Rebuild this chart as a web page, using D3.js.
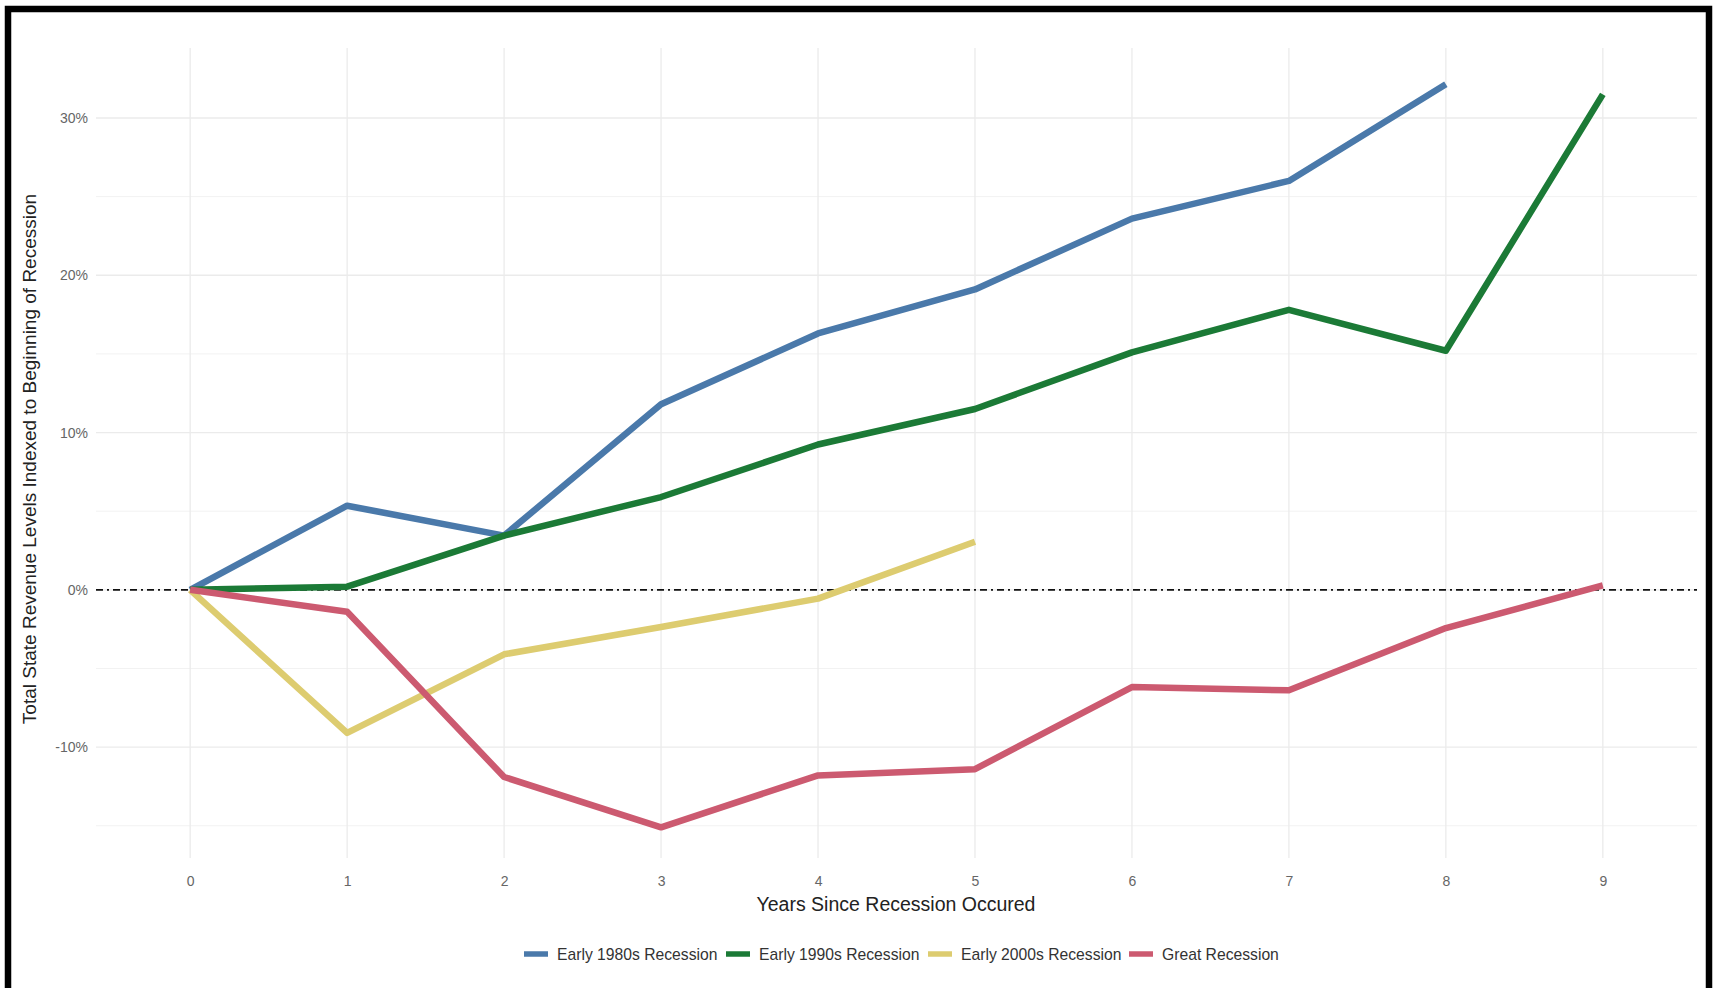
<!DOCTYPE html>
<html>
<head>
<meta charset="utf-8">
<script src="https://cdn.jsdelivr.net/npm/d3@7"></script>
<style>
  html, body { margin: 0; padding: 0; background: #fff; }
  svg { display: block; font-family: "Liberation Sans", Arial, sans-serif; }
</style>
</head>
<body>
<svg id="chart" width="1713" height="988"></svg>
<script>
const years = [0, 1, 2, 3, 4, 5, 6, 7, 8, 9];
const seriesNames = ["Early 1980s Recession", "Early 1990s Recession", "Early 2000s Recession", "Great Recession"];
const early1980s = [0, 5.35, 3.45, 11.8, 16.3, 19.1, 23.6, 26.0, 32.15];
const early1990s = [0, 0.2, 3.45, 5.9, 9.24, 11.5, 15.1, 17.8, 15.2, 31.5];
const early2000s = [0, -9.1, -4.1, -2.36, -0.56, 3.06];
const greatRecession = [0, -1.39, -11.9, -15.1, -11.8, -11.4, -6.18, -6.39, -2.43, 0.28];
const seriesColors = ["#4a79aa", "#1b7a36", "#ddcc70", "#cc5a70"];
const yTickValues = [-10, 0, 10, 20, 30];
const yMinorValues = [-15, -5, 5, 15, 25];
const xTickLabels = ["0", "1", "2", "3", "4", "5", "6", "7", "8", "9"];

const allSeries = [early1980s, early1990s, early2000s, greatRecession];

const svg = d3.select("#chart");
const panel = { left: 96, right: 1697, top: 48, bottom: 858 };

const x = d3.scaleLinear().domain([-0.6, 9.6]).range([panel.left, panel.right]);
const y = d3.scaleLinear().domain([-17.05, 34.45]).range([panel.bottom, panel.top]);

// grid
const grid = svg.append("g");
grid.selectAll("line.minor").data(yMinorValues).enter().append("line")
  .attr("x1", panel.left).attr("x2", panel.right)
  .attr("y1", d => y(d)).attr("y2", d => y(d))
  .attr("stroke", "#f2f2f2").attr("stroke-width", 1);
grid.selectAll("line.major").data(yTickValues).enter().append("line")
  .attr("x1", panel.left).attr("x2", panel.right)
  .attr("y1", d => y(d)).attr("y2", d => y(d))
  .attr("stroke", "#ebebeb").attr("stroke-width", 1.3);
grid.selectAll("line.vx").data(years).enter().append("line")
  .attr("x1", d => x(d)).attr("x2", d => x(d))
  .attr("y1", panel.top).attr("y2", panel.bottom)
  .attr("stroke", "#ebebeb").attr("stroke-width", 1.3);

// zero reference line (dash-dot)
svg.append("line")
  .attr("x1", panel.left).attr("x2", panel.right)
  .attr("y1", y(0)).attr("y2", y(0))
  .attr("stroke", "#111").attr("stroke-width", 1.6)
  .attr("stroke-dasharray", "7,4,2,4");

// axes (text only)
const yAxis = d3.axisLeft(y).tickValues(yTickValues).tickSize(0).tickPadding(0)
  .tickFormat(d => d + "%");
const yg = svg.append("g").attr("transform", `translate(88,0)`).call(yAxis);
yg.select(".domain").remove();
yg.selectAll("text").attr("fill", "#666").attr("font-size", 14)
  .attr("font-family", "Liberation Sans, Arial, sans-serif");

const xAxis = d3.axisBottom(x).tickValues(years).tickSize(0).tickPadding(0)
  .tickFormat((d, i) => xTickLabels[i]);
const xg = svg.append("g").attr("transform", `translate(0,876)`).call(xAxis);
xg.select(".domain").remove();
xg.selectAll("text").attr("fill", "#666").attr("font-size", 14)
  .attr("font-family", "Liberation Sans, Arial, sans-serif");

// lines
const line = d3.line().x((d, i) => x(years[i])).y(d => y(d));
svg.append("g").selectAll("path").data(allSeries).enter().append("path")
  .attr("d", d => line(d))
  .attr("fill", "none")
  .attr("stroke", (d, i) => seriesColors[i])
  .attr("stroke-width", 6.5)
  .attr("stroke-linejoin", "round")
  .attr("stroke-linecap", "butt");

// axis titles
svg.append("text")
  .attr("x", 896).attr("y", 911)
  .attr("text-anchor", "middle")
  .attr("font-size", 19.5).attr("fill", "#222")
  .text("Years Since Recession Occured");

svg.append("text")
  .attr("transform", `translate(36,459) rotate(-90)`)
  .attr("text-anchor", "middle")
  .attr("font-size", 19).attr("fill", "#222")
  .text("Total State Revenue Levels Indexed to Beginning of Recession");

// legend
const legendX = [524, 726, 928, 1129];
const legend = svg.append("g");
seriesNames.forEach((name, i) => {
  const g = legend.append("g").attr("transform", `translate(${legendX[i]},954)`);
  g.append("line").attr("x1", 0).attr("x2", 24).attr("y1", 0).attr("y2", 0)
    .attr("stroke", seriesColors[i]).attr("stroke-width", 5.5);
  g.append("text").attr("x", 33).attr("y", 5.5)
    .attr("font-size", 15.7).attr("fill", "#333").text(name);
});

// frame
svg.append("path")
  .attr("d", "M8,988 L8,9 L1709,9 L1709,988")
  .attr("fill", "none").attr("stroke", "#000").attr("stroke-width", 6.5);
</script>
</body>
</html>
